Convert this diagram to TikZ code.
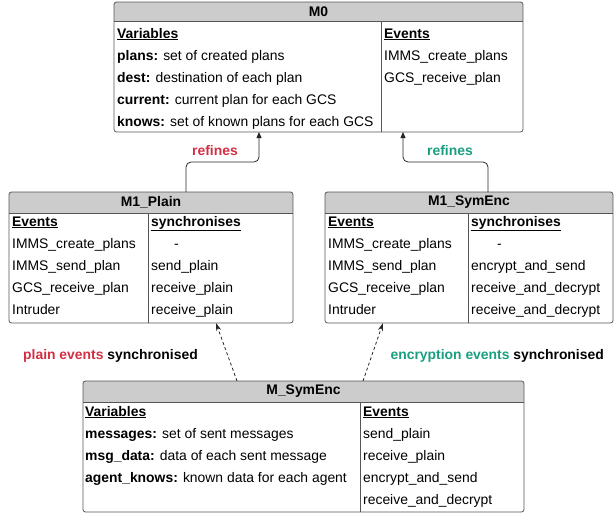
\documentclass[tikz,border=0pt]{standalone}
\usepackage{fontspec}
\setmainfont{Liberation Sans}
\usetikzlibrary{arrows.meta,calc}
\definecolor{hdrgray}{HTML}{CCCCCC}
\definecolor{edgegray}{HTML}{555555}
\definecolor{plainred}{HTML}{D32F44}
\definecolor{encgreen}{HTML}{1A9E80}
\tikzset{
  cell/.style={anchor=west, inner sep=0pt, text height=12pt, text depth=2pt, font=\fontsize{13.9}{16}\selectfont},
  title/.style={inner sep=0pt, font=\bfseries\fontsize{13.9}{16}\selectfont},
  tag/.style={inner sep=0pt, font=\bfseries\fontsize{13.9}{16}\selectfont},
  refarrow/.style={draw=black!85, line width=0.8pt, rounded corners=5pt, -{Triangle[length=6pt,width=5pt]}},
  syncarrow/.style={draw=black!85, line width=0.8pt, dashed, dash pattern=on 3pt off 2.5pt, -{Stealth[length=8pt,width=5pt]}},
  frame/.style={draw=edgegray, line width=0.8pt, rounded corners=2.5pt},
}
% \umlbox{name}{x1}{y1}{x2}{y2}{header bottom}{divider x}{title}
\newcommand\umlbox[8]{%
  \node[inner sep=0pt, outer sep=0pt, minimum width={(#4-#2)*1pt}, minimum height={(#5-#3)*1pt}] (#1) at ({(#2+#4)/2},{(#3+#5)/2}) {};
  \begin{scope}
    \clip[rounded corners=2.5pt] (#2,#3) rectangle (#4,#5);
    \fill[hdrgray] (#2,#3) rectangle (#4,#6);
  \end{scope}
  \draw[edgegray, line width=0.8pt] (#2,#6) -- (#4,#6);
  \draw[edgegray, line width=0.8pt] (#7,#6) -- (#7,#5);
  \draw[frame] (#2,#3) rectangle (#4,#5);
  \node[title] (#1-title) at ({(#2+#4)/2},{(#3+#6)/2}) {#8};
}
\newcommand\hd[1]{\textbf{\underline{#1}}}
\begin{document}
\begin{tikzpicture}[x=1pt, y=-1pt]
\useasboundingbox (0,0) rectangle (616,517);

% ---- M0 ----
\umlbox{m0}{114}{2}{523}{132}{21}{381}{M0}
\node[cell] (m0v) at (117,33) {\hd{Variables}};
\node[cell] (m0v1) at (117,55) {\textbf{plans:} set of created plans};
\node[cell] (m0v2) at (117,77) {\textbf{dest:} destination of each plan};
\node[cell] (m0v3) at (117,99) {\textbf{current:} current plan for each GCS};
\node[cell] (m0v4) at (117,121) {\textbf{knows:} set of known plans for each GCS};
\node[cell] (m0e) at (384,33) {\hd{Events}};
\node[cell] (m0e1) at (384,55) {IMMS\_create\_plans};
\node[cell] (m0e2) at (384,77) {GCS\_receive\_plan};

% ---- M1_Plain ----
\umlbox{m1p}{9}{192}{293}{323}{213}{148}{M1\_Plain}
\node[cell] (m1pe) at (12,221) {\hd{Events}};
\node[cell] (m1pe1) at (12,243) {IMMS\_create\_plans};
\node[cell] (m1pe2) at (12,265) {IMMS\_send\_plan};
\node[cell] (m1pe3) at (12,287) {GCS\_receive\_plan};
\node[cell] (m1pe4) at (12,309) {Intruder};
\node[cell] (m1ps) at (151,221) {\hd{synchronises}};
\node[cell] (m1ps1) at (174,243) {-};
\node[cell] (m1ps2) at (151,265) {send\_plain};
\node[cell] (m1ps3) at (151,287) {receive\_plain};
\node[cell] (m1ps4) at (151,309) {receive\_plain};

% ---- M1_SymEnc ----
\umlbox{m1s}{325}{192}{613}{323}{213}{468}{M1\_SymEnc}
\node[cell] (m1se) at (328,221) {\hd{Events}};
\node[cell] (m1se1) at (328,243) {IMMS\_create\_plans};
\node[cell] (m1se2) at (328,265) {IMMS\_send\_plan};
\node[cell] (m1se3) at (328,287) {GCS\_receive\_plan};
\node[cell] (m1se4) at (328,309) {Intruder};
\node[cell] (m1ss) at (471,221) {\hd{synchronises}};
\node[cell] (m1ss1) at (497,243) {-};
\node[cell] (m1ss2) at (471,265) {encrypt\_and\_send};
\node[cell] (m1ss3) at (471,287) {receive\_and\_decrypt};
\node[cell] (m1ss4) at (471,309) {receive\_and\_decrypt};

% ---- M_SymEnc ----
\umlbox{ms}{83}{381}{524}{512}{402}{360}{M\_SymEnc}
\node[cell] (msv) at (85,411) {\hd{Variables}};
\node[cell] (msv1) at (85,433) {\textbf{messages:} set of sent messages};
\node[cell] (msv2) at (85,455) {\textbf{msg\_data:} data of each sent message};
\node[cell] (msv3) at (85,477) {\textbf{agent\_knows:} known data for each agent};
\node[cell] (mse) at (363,411) {\hd{Events}};
\node[cell] (mse1) at (363,433) {send\_plain};
\node[cell] (mse2) at (363,455) {receive\_plain};
\node[cell] (mse3) at (363,477) {encrypt\_and\_send};
\node[cell] (mse4) at (363,499) {receive\_and\_decrypt};

% ---- refinement connectors ----
\draw[refarrow] (m1p.north -| 186,0) -- (186,162) -- (259,162) -- (m0.south -| 259,0);
\draw[refarrow] (m1s.north -| 488,0) -- (488,162) -- (403,162) -- (m0.south -| 403,0);
\node[tag, text=plainred] (lref1) at (215,151) {refines};
\node[tag, text=encgreen] (lref2) at (450,151) {refines};

% ---- synchronisation connectors ----
\draw[syncarrow] (ms.north -| 237,0) -- (m1p.south -| 216,0);
\draw[syncarrow] (ms.north -| 363,0) -- (m1s.south -| 383,0);
\node[tag, anchor=west] (lsync1) at (23,356) {\textcolor{plainred}{plain events} synchronised};
\node[tag, anchor=east] (lsync2) at (604,356) {\textcolor{encgreen}{encryption events} synchronised};
\end{tikzpicture}
\end{document}
